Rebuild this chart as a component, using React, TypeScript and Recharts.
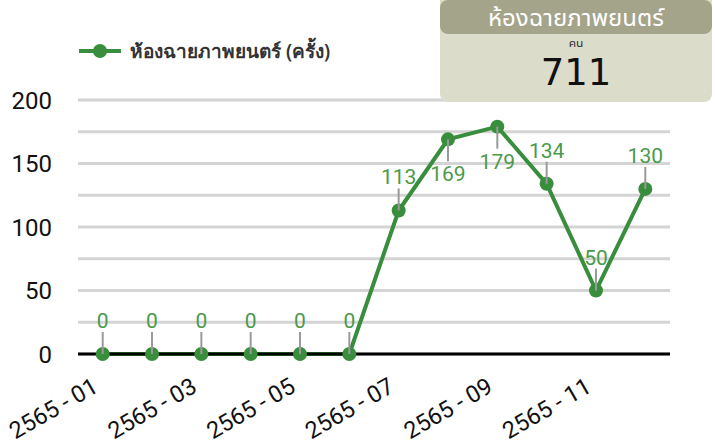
import React from 'react';
import { LineChart, Line, XAxis, YAxis, CartesianGrid, Legend, LabelList } from 'recharts';

const months = ['2565 - 01', '2565 - 02', '2565 - 03', '2565 - 04', '2565 - 05', '2565 - 06', '2565 - 07', '2565 - 08', '2565 - 09', '2565 - 10', '2565 - 11', '2565 - 12'];
const screenings = [0, 0, 0, 0, 0, 0, 113, 169, 179, 134, 50, 130];
const yTicks = [0, 25, 50, 75, 100, 125, 150, 175, 200];
const seriesName = 'ห้องฉายภาพยนตร์ (ครั้ง)';
const boxTitle = 'ห้องฉายภาพยนตร์';
const boxUnit = 'คน';
const boxValue = 711;

const data = months.map((m, i) => ({ month: m, value: screenings[i] }));

const GREEN = '#388e3c';
const LABEL_GREEN = '#4a9a4a';
const FONT = 'Roboto, "Noto Sans", sans-serif';
const THAI_UI = '"Noto Sans Thai UI", "Noto Sans Thai", "Noto Sans", sans-serif';
const belowIdx = new Set([7, 8]);

const XTick = (props: any) => {
  const { x, y, payload } = props;
  const ax = x - 3;
  const ay = y + 37;
  return (
    <text x={ax} y={ay} textAnchor="end" fontSize={23.5} fontFamily={FONT} fill="#111" transform={`rotate(-30, ${ax}, ${ay})`}>
      {payload.value}
    </text>
  );
};

const PointLabel = (props: any) => {
  const { x, y, value, index } = props;
  const below = belowIdx.has(index);
  return (
    <g>
      <line x1={x} y1={y} x2={x} y2={below ? y + 22 : y - 22} stroke="#9a9a9a" strokeWidth={2} />
      <text x={x} y={below ? y + 42 : y - 26} textAnchor="middle" fontSize={21} fontFamily={FONT} fill={LABEL_GREEN}>
        {value}
      </text>
    </g>
  );
};

const LegendContent = () => (
  <div style={{ display: 'flex', alignItems: 'center', height: 30, fontFamily: '"Noto Sans", sans-serif' }}>
    <svg width={44} height={20}>
      <line x1={1} y1={10} x2={43} y2={10} stroke={GREEN} strokeWidth={4} />
      <circle cx={22} cy={10} r={7} fill={GREEN} />
    </svg>
    <span style={{ marginLeft: 8, fontSize: 19, color: '#333', fontWeight: 600 }}>{seriesName}</span>
  </div>
);

export default function App() {
  return (
    <div style={{ position: 'absolute', left: 0, top: 0, width: 715, height: 446, background: '#fff', overflow: 'hidden' }}>
      <LineChart width={715} height={446} data={data} margin={{ top: 70, right: 45, bottom: 32, left: 0 }}>
        <Legend verticalAlign="top" content={<LegendContent />} wrapperStyle={{ top: 36, left: 78, width: 'auto', height: 30 }} />
        <CartesianGrid vertical={false} stroke="#d4d4d4" strokeWidth={3} />
        <XAxis
          dataKey="month"
          interval={1}
          padding={{ left: 24.7, right: 24.7 }}
          tick={<XTick />}
          tickLine={false}
          tickSize={0}
          tickMargin={0}
          axisLine={{ stroke: '#000', strokeWidth: 3 }}
          height={60}
        />
        <YAxis
          domain={[0, 200]}
          ticks={yTicks}
          tickFormatter={(v: number) => (v % 50 === 0 ? String(v) : '')}
          axisLine={false}
          tickLine={false}
          tickSize={0}
          tickMargin={26}
          width={78}
          tick={{ fontSize: 24, fill: '#111', fontFamily: FONT }}
        />
        <Line
          type="linear"
          dataKey="value"
          name={seriesName}
          stroke={GREEN}
          strokeWidth={4}
          dot={{ r: 7, fill: GREEN, stroke: GREEN, strokeWidth: 0 }}
          activeDot={false}
          isAnimationActive={false}
        >
          <LabelList dataKey="value" content={<PointLabel />} />
        </Line>
      </LineChart>
      <div style={{ position: 'absolute', left: 440, top: 0, width: 272, height: 102, background: '#dcdccb', borderRadius: '0 0 8px 8px', textAlign: 'center' }}>
        <div style={{ height: 34, background: '#a4a48b', borderRadius: 8, display: 'flex', alignItems: 'center', justifyContent: 'center' }}>
          <span style={{ color: '#fff', fontSize: 24, lineHeight: 1, fontFamily: THAI_UI }}>{boxTitle}</span>
        </div>
        <div style={{ fontSize: 12, color: '#333', lineHeight: '16px', marginTop: 1, fontFamily: THAI_UI }}>{boxUnit}</div>
        <div style={{ fontSize: 37, color: '#111', lineHeight: '44px', fontFamily: '"DejaVu Sans", sans-serif' }}>{boxValue}</div>
      </div>
    </div>
  );
}
